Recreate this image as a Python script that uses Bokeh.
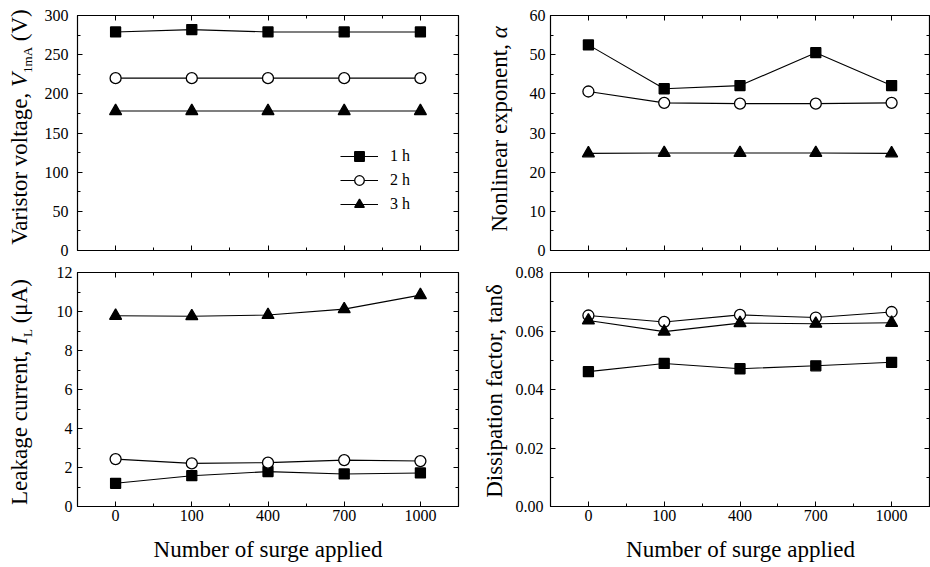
import numpy as np
from bokeh.plotting import figure
from bokeh.models import (Range1d, FixedTicker, SingleIntervalTicker, LinearAxis, Div,
                          Legend, LegendItem, NumeralTickFormatter, CustomJSTickFormatter)
from bokeh.core.properties import value
from bokeh.layouts import column, row
from bokeh.embed import file_html
from bokeh.resources import INLINE

FONT = "Liberation Serif"

# ---------------- data ----------------
x_labels = ["0", "100", "400", "700", "1000"]
series_names = ["1 h", "2 h", "3 h"]

v1ma_1h = [279, 282, 279, 279, 279]
v1ma_2h = [220, 220, 220, 220, 220]
v1ma_3h = [178, 178, 178, 178, 178]

alpha_1h = [52.5, 41.3, 42.1, 50.5, 42.1]
alpha_2h = [40.6, 37.7, 37.5, 37.5, 37.7]
alpha_3h = [24.8, 24.9, 24.9, 24.9, 24.8]

il_1h = [1.19, 1.58, 1.79, 1.67, 1.72]
il_2h = [2.43, 2.21, 2.25, 2.38, 2.33]
il_3h = [9.78, 9.76, 9.82, 10.12, 10.84]

tan_1h = [0.0461, 0.0489, 0.0471, 0.0481, 0.0493]
tan_2h = [0.0653, 0.0631, 0.0655, 0.0646, 0.0665]
tan_3h = [0.0636, 0.0598, 0.0627, 0.0625, 0.0628]

x_pos = list(range(len(x_labels)))

LABEL_PX = 23
SUB_PX = 13
MID = 0.3375  # baseline lies this many em below the centre of a 1em line box


def style_axis(ax, show_labels=True, standoff=6):
    ax.axis_line_color = "black"
    ax.axis_line_width = 1.2
    ax.major_tick_line_color = "black"
    ax.minor_tick_line_color = "black"
    ax.major_tick_in = 5
    ax.major_tick_out = 0
    ax.minor_tick_in = 3
    ax.minor_tick_out = 0
    ax.axis_label = None
    if show_labels:
        ax.major_label_text_font = FONT
        ax.major_label_text_font_size = "16px"
        ax.major_label_text_color = "black"
        ax.major_label_standoff = standoff
    else:
        ax.formatter = CustomJSTickFormatter(code="return ''")
        ax.major_label_text_font_size = "1px"
        ax.major_label_text_color = None
        ax.major_label_standoff = 0


def x_ticker():
    return FixedTicker(ticks=x_pos, minor_ticks=[i + 0.5 for i in x_pos[:-1]])


def make_fig(width, height, mbl, mbr, mbt, mbb, ymax, ystep, show_x, ystandoff, yfmt=None):
    p = figure(width=width, height=height, output_backend="svg", toolbar_location=None,
               x_range=Range1d(-0.5, 4.5), y_range=Range1d(0, ymax),
               min_border_left=mbl, min_border_right=mbr, min_border_top=mbt,
               min_border_bottom=mbb, background_fill_color="white",
               border_fill_color="white", outline_line_color="black")
    p.xgrid.visible = False
    p.ygrid.visible = False
    xa = p.xaxis[0]
    xa.ticker = x_ticker()
    style_axis(xa, show_x, 3)
    if show_x:
        xa.major_label_overrides = {i: s for i, s in zip(x_pos, x_labels)}
    ya = p.yaxis[0]
    ya.ticker = SingleIntervalTicker(interval=ystep, num_minor_ticks=2)
    if yfmt:
        ya.formatter = NumeralTickFormatter(format=yfmt)
    style_axis(ya, True, ystandoff)
    top = LinearAxis(ticker=x_ticker())
    style_axis(top, False)
    p.add_layout(top, "above")
    right = LinearAxis(ticker=SingleIntervalTicker(interval=ystep, num_minor_ticks=2))
    style_axis(right, False)
    p.add_layout(right, "right")
    return p


def add_series(p, ys):
    rends = []
    specs = [("square", 10, "black"), ("circle", 11, "white"), ("triangle", 12, "black")]
    for y, (mk, sz, fill) in zip(ys, specs):
        ln = p.line(x_pos, y, line_color="black", line_width=1.1)
        sc = p.scatter(x_pos, y, marker=mk, size=sz, fill_color=fill, line_color="black",
                       line_width=1.3)
        rends.append((ln, sc))
    return rends


def ylabel_div(width, height, html, base_x, center_y):
    """Rotated rich-text y-axis title; centre of its line box placed at (cx, center_y)."""
    cx = base_x - MID * LABEL_PX
    inner = (f'<div style="position:relative;width:{width}px;height:{height}px;'
             f'overflow:visible;">'
             f'<div style="position:absolute;left:{cx}px;top:{center_y}px;'
             f'transform:translate(-50%,-50%) rotate(-90deg);white-space:nowrap;'
             f'font-family:\'{FONT}\';font-size:{LABEL_PX}px;line-height:1;color:black;">'
             f'{html}</div></div>')
    return Div(text=inner, width=width, height=height, margin=(0, 0, 0, 0))


def sub(t):
    return (f'<span style="font-size:{SUB_PX}px;position:relative;top:5px;">{t}</span>')


def strip(width, height):
    s = figure(width=width, height=height, output_backend="svg", toolbar_location=None,
               x_range=Range1d(0, width), y_range=Range1d(0, height),
               x_axis_type=None, y_axis_type=None, min_border=0,
               min_border_left=0, min_border_right=0, min_border_top=0, min_border_bottom=0,
               outline_line_color=None, background_fill_color="white",
               border_fill_color="white")
    s.xgrid.visible = False
    s.ygrid.visible = False
    return s


def xlabel_strip(width, height, cx, base_y, F=LABEL_PX):
    s = strip(width, height)
    s.text(x=[cx], y=[base_y + MID * F], text=["Number of surge applied"], text_align="center",
           text_baseline="middle", text_font=value(FONT), text_font_size=value(f"{F}px"),
           text_color="black")
    return s


TOP_H, BOT_H, XL_H = 262, 273, 32

# top-left: frame 77..458 x, 15..252 y
d1 = ylabel_div(40, TOP_H, "Varistor voltage, <i>V</i>" + sub("1mA") + " (V)", 27, 126.5)
p1 = make_fig(430, TOP_H, 37, 12, 15, 10, 300, 50, False, 9)
r1 = add_series(p1, [v1ma_1h, v1ma_2h, v1ma_3h])
legend = Legend(items=[LegendItem(label=n, renderers=list(r)) for n, r in zip(series_names, r1)],
                location=(263, 34), orientation="vertical", glyph_width=38, glyph_height=24,
                label_standoff=12, spacing=0, padding=0, margin=0,
                label_text_font=FONT, label_text_font_size="16px", label_text_color="black",
                border_line_color=None, background_fill_alpha=0)
p1.add_layout(legend, "center")

# top-right: frame 550..929 x, 15..250 y
d2 = ylabel_div(42, TOP_H, "Nonlinear exponent, <i>α</i>", 37, 128.5)
p2 = make_fig(418, TOP_H, 38, 1, 15, 12, 60, 10, False, 5)
add_series(p2, [alpha_1h, alpha_2h, alpha_3h])

# bottom-left: frame 77..458 x, 272..507 y
d3 = ylabel_div(40, BOT_H, "Leakage current, <i>I</i>" + sub("L") + " (μA)", 27, 129.5)
p3 = make_fig(430, BOT_H, 37, 12, 10, 28, 12, 2, True, 5)
add_series(p3, [il_1h, il_2h, il_3h])

# bottom-right: frame 550..929 x, 271..506 y
d4 = ylabel_div(42, BOT_H, "Dissipation factor, tanδ", 32, 128.5)
p4 = make_fig(418, BOT_H, 38, 1, 9, 29, 0.08, 0.02, True, 7, yfmt="0.00")
add_series(p4, [tan_1h, tan_2h, tan_3h])

x1 = xlabel_strip(470, XL_H, 267.5, 10)
x2 = xlabel_strip(460, XL_H, 270, 10)

layout = column(row(d1, p1, d2, p2), row(d3, p3, d4, p4), row(x1, x2))
open("out.html", "w").write(file_html(layout, INLINE))
